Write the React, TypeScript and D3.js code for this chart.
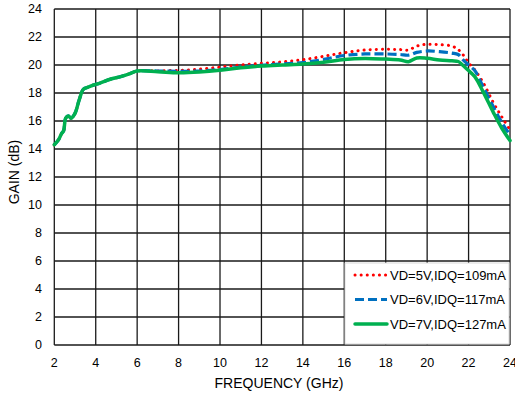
import * as d3 from 'd3';

const freqs = [
  2, 2.2, 2.35, 2.45, 2.55, 2.68, 2.8, 3.0, 3.2, 3.4, 3.6, 3.9, 4.2, 4.7, 5.2, 5.6, 6.0, 7.0, 8.0,
  9.0, 10.0, 11.0, 12.0, 13.0, 14.0, 15.0, 16.0, 17.0, 18.0, 18.7, 19.1, 19.5, 20.0, 20.6, 21.2,
  21.5, 21.75, 22.0, 22.3, 22.7, 23.2, 23.6, 24,
];

// below 6 GHz the three bias points overlap
const lowBand = [
  14.3, 14.65, 15.1, 15.3, 16.2, 16.36, 16.2, 16.55, 17.5, 18.26, 18.4, 18.57, 18.7, 18.98, 19.17,
  19.36, 19.57,
];

const gainVd5 = [
  ...lowBand, 19.58, 19.62, 19.7, 19.85, 20.0, 20.12, 20.22, 20.38, 20.62, 20.88, 21.07, 21.12,
  21.1, 21.07, 21.35, 21.48, 21.45, 21.35, 21.1, 20.7, 20.15, 19.65, 18.75, 17.3, 16.3, 15.36,
];
const gainVd6 = [
  ...lowBand, 19.57, 19.55, 19.57, 19.68, 19.85, 19.98, 20.08, 20.17, 20.4, 20.68, 20.79, 20.79,
  20.75, 20.7, 20.9, 21.0, 20.95, 20.85, 20.75, 20.35, 20.0, 19.6, 18.45, 17.0, 15.9, 15.0,
];
const gainVd7 = [
  ...lowBand, 19.52, 19.45, 19.5, 19.62, 19.8, 19.92, 20.0, 20.07, 20.2, 20.4, 20.47, 20.42,
  20.36, 20.24, 20.5, 20.48, 20.36, 20.3, 20.25, 19.95, 19.6, 19.17, 18.1, 16.6, 15.5, 14.6,
];

const seriesNames = ['VD=5V,IDQ=109mA', 'VD=6V,IDQ=117mA', 'VD=7V,IDQ=127mA'];
const seriesData = [gainVd5, gainVd6, gainVd7];
const xTicks = [2, 4, 6, 8, 10, 12, 14, 16, 18, 20, 22, 24];
const yTicks = [0, 2, 4, 6, 8, 10, 12, 14, 16, 18, 20, 22, 24];

const styles = [
  { color: '#ff0000', dash: '0.1 6', width: 3, cap: 'round' as const },
  { color: '#0070c0', dash: '9 4', width: 3.2, cap: 'butt' as const },
  { color: '#00b050', dash: undefined, width: 3.5, cap: 'round' as const },
];

export default function App() {
  const width = 515;
  const height = 395;
  const left = 54.3;
  const right = 510;
  const top = 9;
  const bottom = 345;
  const font = '"Liberation Sans", Arial, sans-serif';

  const x = d3.scaleLinear().domain([2, 24]).range([left, right]);
  const y = d3.scaleLinear().domain([0, 24]).range([bottom, top]);

  const line = d3
    .line<number>()
    .x((_, i) => x(freqs[i]))
    .y((d) => y(d))
    .curve(d3.curveCatmullRom.alpha(0.5));

  const legX = 345;
  const legY = 263;

  return (
    <svg
      width={width}
      height={height}
      style={{ position: 'absolute', left: 0, top: 0, background: '#fff' }}
      fontFamily={font}
    >
      {/* grid */}
      {xTicks.map((t) => (
        <line key={'gx' + t} x1={x(t)} x2={x(t)} y1={top} y2={bottom} stroke='#1a1a1a' strokeWidth={1.3} />
      ))}
      {yTicks.map((t) => (
        <line key={'gy' + t} x1={left} x2={right} y1={y(t)} y2={y(t)} stroke='#1a1a1a' strokeWidth={1.3} />
      ))}

      {/* series */}
      {seriesData.map((d, i) => (
        <path
          key={seriesNames[i]}
          d={line(d) ?? ''}
          fill='none'
          stroke={styles[i].color}
          strokeWidth={styles[i].width}
          strokeDasharray={styles[i].dash}
          strokeLinecap={styles[i].cap}
          strokeLinejoin='round'
        />
      ))}

      {/* tick labels */}
      {yTicks.map((t) => (
        <text key={'ty' + t} x={42} y={y(t)} dy='0.35em' textAnchor='end' fontSize={12.5} fill='#000'>
          {t}
        </text>
      ))}
      {xTicks.map((t) => (
        <text key={'tx' + t} x={x(t)} y={363} dy='0.35em' textAnchor='middle' fontSize={12.5} fill='#000'>
          {t}
        </text>
      ))}

      {/* axis titles */}
      <text x={279} y={383} dy='0.35em' textAnchor='middle' fontSize={14} fill='#000'>
        FREQUENCY (GHz)
      </text>
      <text
        transform={`translate(14,172) rotate(-90)`}
        dy='0.35em'
        textAnchor='middle'
        fontSize={14}
        fill='#000'
      >
        GAIN (dB)
      </text>

      {/* legend */}
      <rect x={legX} y={legY} width={right - legX - 1} height={bottom - legY - 1} fill='#fff' stroke='#d9d9d9' strokeWidth={1} />
      {seriesNames.map((name, i) => {
        const ly = 275 + i * 24.5;
        return (
          <g key={'leg' + name}>
            <line
              x1={355}
              x2={387}
              y1={ly}
              y2={ly}
              stroke={styles[i].color}
              strokeWidth={styles[i].width}
              strokeDasharray={styles[i].dash}
              strokeLinecap={styles[i].cap}
            />
            <text x={390} y={ly} dy='0.35em' fontSize={13} fill='#000'>
              {name}
            </text>
          </g>
        );
      })}
    </svg>
  );
}
